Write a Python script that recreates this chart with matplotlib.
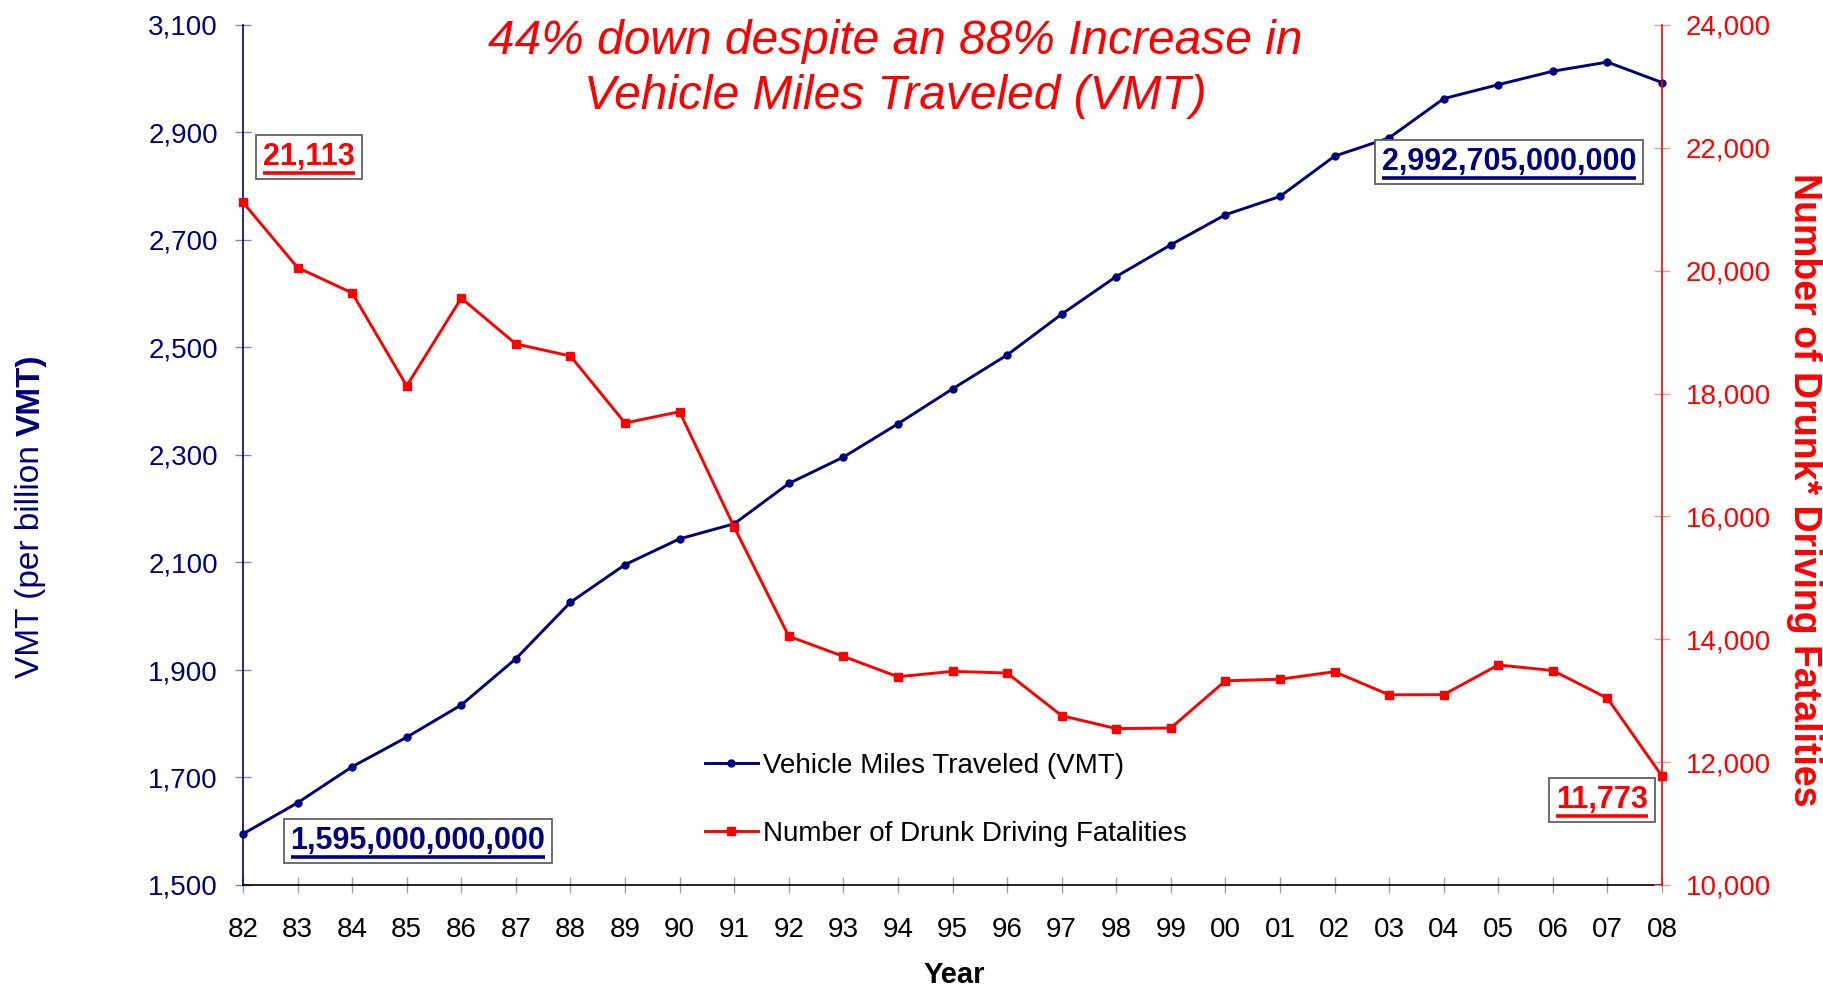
import matplotlib
matplotlib.use("Agg")
import matplotlib.pyplot as plt
from matplotlib.ticker import FuncFormatter
from matplotlib.lines import Line2D

plt.rcParams['font.family'] = ['Liberation Sans', 'DejaVu Sans']

# ---- data ----
years = ['82', '83', '84', '85', '86', '87', '88', '89', '90', '91', '92', '93', '94',
         '95', '96', '97', '98', '99', '00', '01', '02', '03', '04', '05', '06', '07', '08']
vmt = [1595, 1653, 1720, 1775, 1835, 1921, 2026, 2096, 2144, 2172, 2247, 2296, 2358,
       2423, 2486, 2562, 2632, 2691, 2747, 2781, 2856, 2890, 2963, 2989, 3014, 3031, 2993]
fatalities = [21113, 20051, 19638, 18125, 19554, 18808, 18611, 17521, 17705, 15827, 14049,
              13722, 13390, 13478, 13451, 12757, 12546, 12555, 13324, 13350, 13472, 13096,
              13099, 13582, 13491, 13041, 11773]
left_ticks = list(range(1500, 3101, 200))
right_ticks = list(range(10000, 24001, 2000))

NAVY = '#000080'
RED = '#FF0000'
W, H = 1824, 990

fig = plt.figure(figsize=(W / 100, H / 100), dpi=100)
ax = fig.add_axes([243 / W, 1 - 885 / H, (1662 - 243) / W, (885 - 25) / H])
ax2 = ax.twinx()

x = list(range(len(years)))
l1, = ax.plot(x, vmt, color=NAVY, lw=2.1, marker='o', ms=5, clip_on=False,
              label='Vehicle Miles Traveled (VMT)', zorder=3)
l2, = ax2.plot(x, fatalities, color=RED, lw=2.1, marker='s', ms=5.5, clip_on=False,
               label='Number of Drunk Driving Fatalities', zorder=3)

ax.set_xlim(0, len(years) - 1)
ax.set_xticks(x)
ax.set_xticklabels(years)
ax.set_ylim(1500, 3100)
ax.set_yticks(left_ticks)
ax2.set_ylim(10000, 24000)
ax2.set_yticks(right_ticks)
fmt = FuncFormatter(lambda v, p: f'{int(v):,}')
ax.yaxis.set_major_formatter(fmt)
ax2.yaxis.set_major_formatter(fmt)

ax.tick_params(axis='y', direction='inout', length=12, width=1, color='#8080C8',
               labelcolor=NAVY, labelsize=20, pad=12)
ax.tick_params(axis='x', direction='inout', length=12, width=1, color='#A0A0A0',
               labelcolor='black', labelsize=20, pad=17)
ax2.tick_params(axis='y', direction='inout', length=12, width=1, color='#FF9090',
                labelcolor=RED, labelsize=20, pad=11)

for s in ['top', 'right']:
    ax.spines[s].set_visible(False)
ax.spines['left'].set_color(NAVY)
ax.spines['left'].set_linewidth(1.2)
ax.spines['bottom'].set_color('black')
ax.spines['bottom'].set_linewidth(1.2)
for s in ['top', 'left', 'bottom']:
    ax2.spines[s].set_visible(False)
ax2.spines['right'].set_color(RED)
ax2.spines['right'].set_linewidth(1.2)

# legend
fig.legend(handles=[l1, l2], loc='upper left', bbox_to_anchor=(705 / W, 1 - 753 / H),
           frameon=False, fontsize=20, borderpad=0, borderaxespad=0,
           handlelength=1.9, handletextpad=0.2, labelspacing=1.51)

# title
fig.text(895 / W, 1 - 69 / H, '44% down despite an 88% Increase in\nVehicle Miles Traveled (VMT)',
         color=RED, fontsize=34.5, style='italic', ha='center', va='center', linespacing=1.27)

# axis labels
fig.text(31 / W, 1 - 445 / H, 'VMT (per billion', color=NAVY, fontsize=24, rotation=90,
         rotation_mode='anchor', ha='right', va='center')
fig.text(31 / W, 1 - 436 / H, 'VMT)', color=NAVY, fontsize=24, fontweight='bold', rotation=90,
         rotation_mode='anchor', ha='left', va='center')
fig.text(1804 / W, 1 - 490 / H, 'Number of Drunk* Driving Fatalities', color=RED, fontsize=27,
         fontweight='bold', rotation=270, rotation_mode='anchor', ha='center', va='center')
fig.text(954 / W, 1 - 975 / H, 'Year', color='black', fontsize=21, fontweight='bold',
         ha='center', va='center')

# value boxes
boxes = [
    (f'{fatalities[0]:,}', RED, 309, 157),
    ('2,992,705,000,000', NAVY, 1509, 162),
    ('1,595,000,000,000', NAVY, 418, 841),
    (f'{fatalities[-1]:,}', RED, 1602, 800),
]
texts = []
for label, col, px, py in boxes:
    t = fig.text(px / W, 1 - py / H, label, color=col, fontsize=22, fontweight='bold',
                 ha='center', va='center', zorder=5,
                 bbox=dict(boxstyle='square,pad=0.22', facecolor='white',
                           edgecolor='#606060', linewidth=1.3))
    texts.append((t, col))

fig.canvas.draw()
renderer = fig.canvas.get_renderer()
for t, col in texts:
    bb = t.get_window_extent(renderer)
    yline = bb.y0 - 0.5
    fig.add_artist(Line2D([bb.x0 / W, bb.x1 / W], [yline / H, yline / H],
                          transform=fig.transFigure, color=col, lw=2.6, zorder=6,
                          solid_capstyle='butt'))

fig.savefig('out.png', dpi=100)
